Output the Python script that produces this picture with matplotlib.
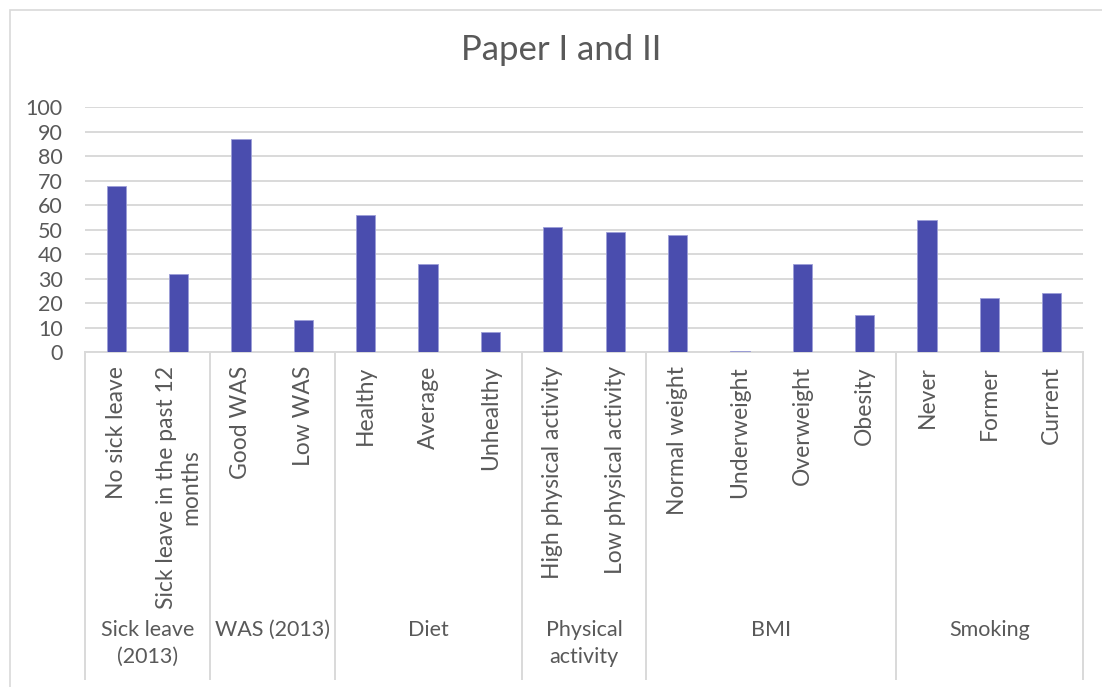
import numpy as np
import matplotlib
matplotlib.use("Agg")
from matplotlib import pyplot as plt
from matplotlib import transforms
from matplotlib.patches import Rectangle

plt.rcParams['font.family'] = ['Lato', 'DejaVu Sans']

# Data
categories = ["No sick leave", "Sick leave in the past 12\nmonths",
              "Good WAS", "Low WAS",
              "Healthy", "Average", "Unhealthy",
              "High physical activity", "Low physical activity",
              "Normal weight", "Underweight", "Overweight", "Obesity",
              "Never", "Former", "Current"]
values = [68, 32, 87, 13, 56, 36, 8, 51, 49, 48, 0.6, 36, 15, 54, 22, 24]
groups = ["Sick leave\n(2013)", "WAS (2013)", "Diet", "Physical\nactivity", "BMI", "Smoking"]
group_sizes = [2, 2, 3, 2, 4, 3]

W, H = 1102, 687
txt = "#595959"
grid = "#D9D9D9"
bar_col = "#4A4DAE"

fig = plt.figure(figsize=(W / 100, H / 100), dpi=100)
ax = fig.add_axes([85 / W, (H - 352) / H, (1083 - 85) / W, (352 - 107.3) / H])

x = np.arange(len(categories))
ax.bar(x, values, width=0.31, color=bar_col, edgecolor="#9C9ED8", linewidth=0.6, zorder=3)

ax.set_xlim(-0.5, len(categories) - 0.5)
ax.set_ylim(0, 100)
ax.set_yticks(np.arange(0, 101, 10))
ax.yaxis.grid(True, color=grid, linewidth=1.4, zorder=0)
ax.tick_params(axis="y", length=0, pad=16, labelsize=15.5, labelcolor=txt)
for s in ["left", "right", "top"]:
    ax.spines[s].set_visible(False)
ax.spines["bottom"].set_color(grid)
ax.spines["bottom"].set_linewidth(1.4)

ax.set_xticks(x)
ax.set_xticklabels(categories, rotation=90, va="top", ha="center",
                   multialignment="center", fontsize=16.5, color=txt,
                   linespacing=1.2)
ax.tick_params(axis="x", length=0, pad=10)

# Group separators and group labels below the category labels
tr = transforms.blended_transform_factory(ax.transData, fig.transFigure)
y_top = (H - 352) / H
y_bot = (H - 679) / H
edges = np.concatenate([[0], np.cumsum(group_sizes)]) - 0.5
for e in edges:
    ax.plot([e, e], [y_top, y_bot], transform=tr, color=grid, lw=1.4, clip_on=False)
for g, a, b in zip(groups, edges[:-1], edges[1:]):
    ax.text((a + b) / 2, (H - 620) / H, g, transform=tr, ha="center", va="top",
            fontsize=15.5, color=txt, linespacing=1.45)

fig.text(561 / W, (H - 50) / H, "Paper I and II", ha="center", va="center",
         fontsize=25, color=txt)

# Chart area border
fig.patches.append(Rectangle((9.5 / W, -0.2), 1.5, 1.2 - 9.5 / H, transform=fig.transFigure,
                             fill=False, edgecolor=grid, lw=1.2))

fig.savefig("out.png", dpi=100)
